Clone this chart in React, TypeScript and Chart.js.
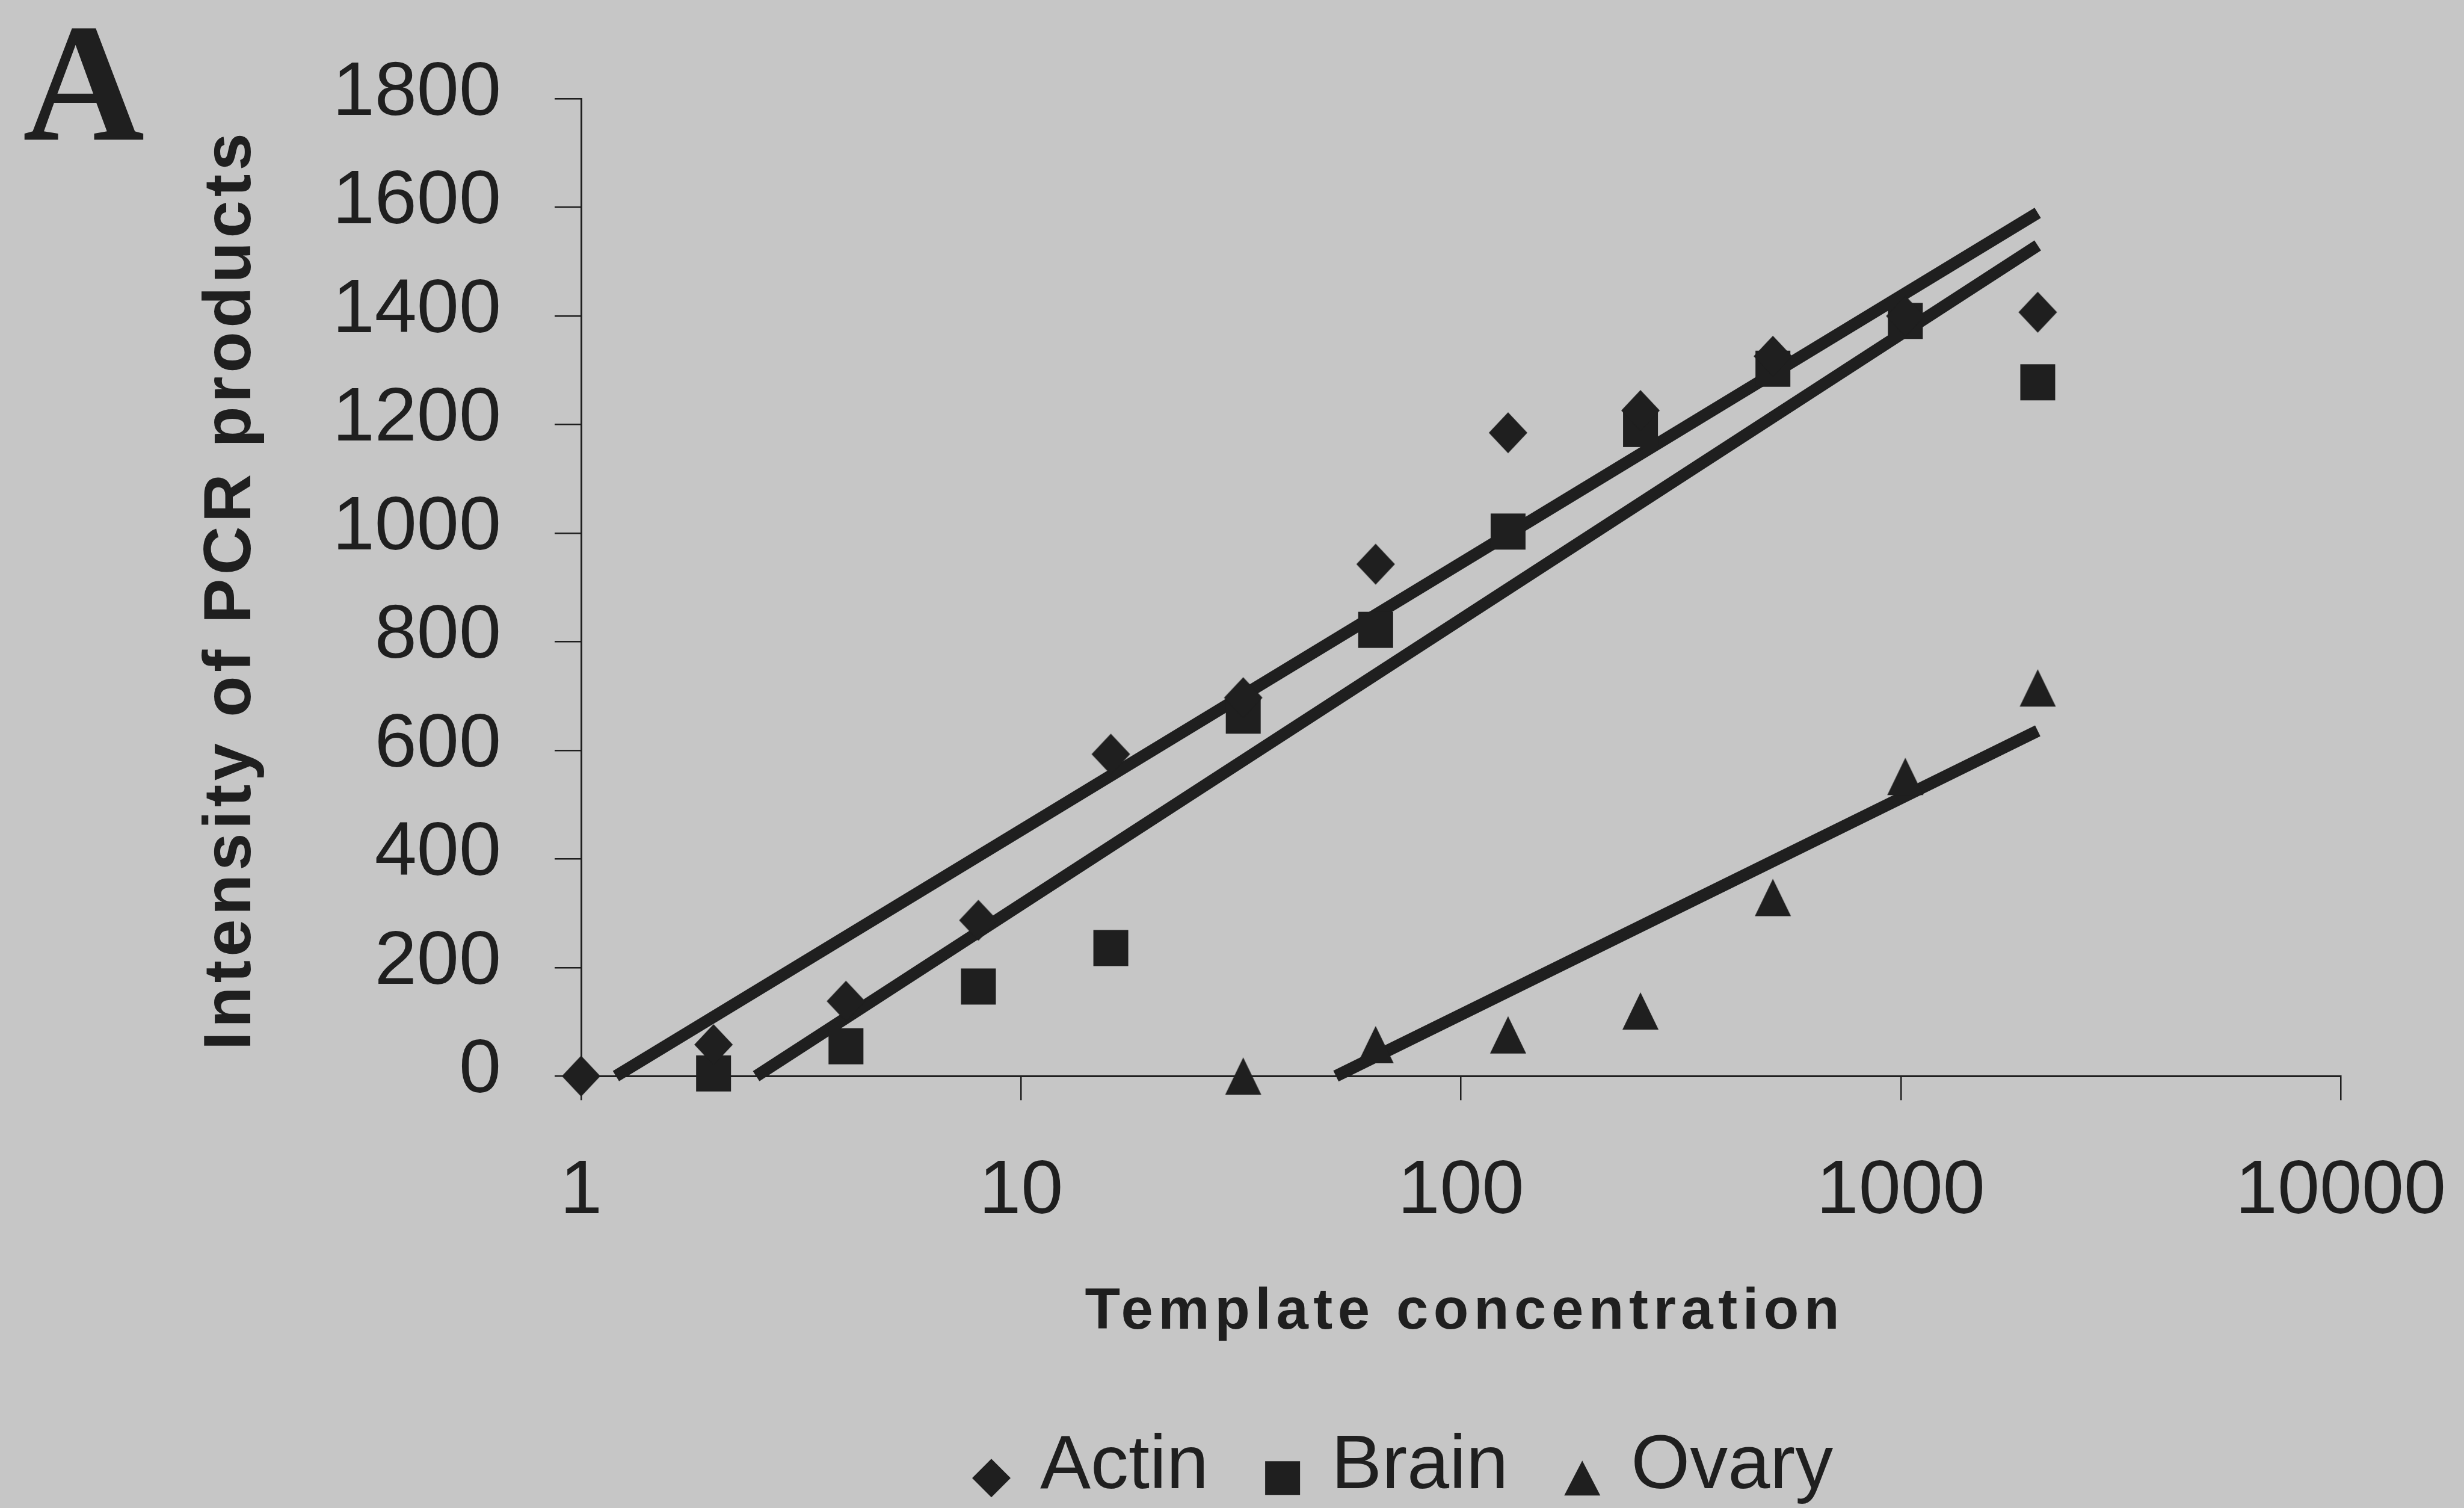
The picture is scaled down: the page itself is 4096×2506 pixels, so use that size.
import { useEffect, useRef } from 'react';
import { Chart, registerables } from 'chart.js';

Chart.register(...registerables);

// ---- data -------------------------------------------------------------
const actinConc = [1, 2, 4, 8, 16, 32, 64, 128, 256, 512, 1024, 2048];
const actinIntensity = [0, 58, 138, 287, 593, 697, 943, 1185, 1226, 1326, 1400, 1407];

const brainConc = [2, 4, 8, 16, 32, 64, 128, 256, 512, 1024, 2048];
const brainIntensity = [5, 55, 165, 236, 664, 822, 1003, 1192, 1303, 1391, 1278];

const ovaryConc = [32, 64, 128, 256, 512, 1024, 2048];
const ovaryIntensity = [0, 58, 76, 120, 329, 552, 715];

// Logarithmic trend lines: straight on the log axis, from the zero crossing to the last dilution
const actinTrendX = [1.2, 2048];
const actinTrendY = [0, 1590];
const brainTrendX = [2.5, 2048];
const brainTrendY = [0, 1530];
const ovaryTrendX = [52, 2048];
const ovaryTrendY = [0, 636];

const seriesNames = ['Actin', 'Brain', 'Ovary'];
const xTickValues = [1, 10, 100, 1000, 10000];
const xTickLabels = ['1', '10', '100', '1000', '10000'];
const yTickValues = [0, 200, 400, 600, 800, 1000, 1200, 1400, 1600, 1800];
const yTickLabels = ['0', '200', '400', '600', '800', '1000', '1200', '1400', '1600', '1800'];

const panelLabel = 'A';
const xTitle = 'Template concentration';
const yTitle = 'Intensity of PCR products';

// ---- styling ----------------------------------------------------------
const INK = '#1f1f1f';
const PAPER = '#c6c6c6';
const SANS = '"Liberation Sans", Arial, Helvetica, sans-serif';
const SERIF = '"Liberation Serif", "Times New Roman", serif';
const W = 4096;
const H = 2506;
const LABEL_SIZE = 126;

type Shape = 'diamond' | 'square' | 'triangle';

function drawShape(ctx: CanvasRenderingContext2D, shape: Shape, cx: number, cy: number, w: number, h: number) {
  ctx.save();
  ctx.fillStyle = INK;
  ctx.beginPath();
  if (shape === 'diamond') {
    ctx.moveTo(cx, cy - h / 2);
    ctx.lineTo(cx + w / 2, cy);
    ctx.lineTo(cx, cy + h / 2);
    ctx.lineTo(cx - w / 2, cy);
  } else if (shape === 'square') {
    ctx.rect(cx - w / 2, cy - h / 2, w, h);
  } else {
    ctx.moveTo(cx, cy - h / 2);
    ctx.lineTo(cx + w / 2, cy + h / 2);
    ctx.lineTo(cx - w / 2, cy + h / 2);
  }
  ctx.closePath();
  ctx.fill();
  ctx.restore();
}

function makeMarker(shape: Shape, w: number, h: number): HTMLCanvasElement {
  const pad = 2;
  const c = document.createElement('canvas');
  c.width = 2 * Math.ceil((w + 2 * pad) / 2);
  c.height = 2 * Math.ceil((h + 2 * pad) / 2);
  const ctx = c.getContext('2d')!;
  drawShape(ctx, shape, c.width / 2, c.height / 2, w, h);
  return c;
}

const seriesShapes: Shape[] = ['diamond', 'square', 'triangle'];
const markerSizes: [number, number][] = [
  [64, 68],
  [58, 60],
  [60, 62],
];

const toPoints = (xs: number[], ys: number[]) => xs.map((x, i) => ({ x, y: ys[i] }));

export default function App() {
  const canvasRef = useRef<HTMLCanvasElement | null>(null);

  useEffect(() => {
    document.body.style.margin = '0';
    document.body.style.background = PAPER;
    const canvas = canvasRef.current;
    if (!canvas) return;

    const plotMarkers = seriesShapes.map((s, i) => makeMarker(s, markerSizes[i][0], markerSizes[i][1]));

    const figureText = {
      id: 'figureText',
      beforeDraw(chart: Chart) {
        const ctx = chart.ctx;
        ctx.save();
        ctx.fillStyle = PAPER;
        ctx.fillRect(0, 0, chart.width, chart.height);
        ctx.restore();
      },
      afterDraw(chart: Chart) {
        const ctx = chart.ctx as CanvasRenderingContext2D & { letterSpacing?: string };
        const { left, right, top, bottom } = chart.chartArea;

        // vertical axis title
        ctx.save();
        ctx.fillStyle = INK;
        ctx.font = `bold 112px ${SANS}`;
        const yls = 6.2;
        ctx.letterSpacing = `${yls}px`;
        ctx.textAlign = 'left';
        ctx.textBaseline = 'alphabetic';
        const yw = ctx.measureText(yTitle).width - yls;
        ctx.translate(left - 550, (top + bottom) / 2 + 7);
        ctx.rotate(-Math.PI / 2);
        ctx.fillText(yTitle, -yw / 2, 0);
        ctx.restore();

        // horizontal axis title
        ctx.save();
        ctx.fillStyle = INK;
        ctx.font = `bold 96px ${SANS}`;
        const xls = 8.5;
        ctx.letterSpacing = `${xls}px`;
        ctx.textAlign = 'left';
        ctx.textBaseline = 'alphabetic';
        const xw = ctx.measureText(xTitle).width - xls;
        ctx.fillText(xTitle, (left + right) / 2 + 2 - xw / 2, bottom + 420);
        ctx.restore();

        // legend row under the axis title: marker, gap, name, gap, ...
        ctx.save();
        ctx.font = `${LABEL_SIZE}px ${SANS}`;
        ctx.fillStyle = INK;
        ctx.textAlign = 'left';
        ctx.textBaseline = 'middle';
        const textY = bottom + 650;
        const markerY = bottom + 668;
        let x = left + 682;
        seriesNames.forEach((name, i) => {
          drawShape(ctx, seriesShapes[i], x, markerY, markerSizes[i][0], markerSizes[i][1] - 4);
          ctx.fillStyle = INK;
          ctx.fillText(name, x + 81, textY);
          x += 81 + ctx.measureText(name).width + 123;
        });
        ctx.restore();

        // panel letter
        ctx.save();
        ctx.fillStyle = INK;
        ctx.font = `bold 280px ${SERIF}`;
        ctx.textAlign = 'left';
        ctx.textBaseline = 'alphabetic';
        ctx.fillText(panelLabel, 38, 232);
        ctx.restore();
      },
    };

    const tickFont = { family: SANS, size: LABEL_SIZE };

    const pointSeries = [
      toPoints(actinConc, actinIntensity),
      toPoints(brainConc, brainIntensity),
      toPoints(ovaryConc, ovaryIntensity),
    ];
    const trendSeries = [
      toPoints(actinTrendX, actinTrendY),
      toPoints(brainTrendX, brainTrendY),
      toPoints(ovaryTrendX, ovaryTrendY),
    ];

    const chart = new Chart(canvas, {
      type: 'scatter',
      data: {
        datasets: [
          ...pointSeries.map((data, i) => ({
            label: seriesNames[i],
            data,
            pointStyle: plotMarkers[i],
            pointRadius: 34,
            backgroundColor: INK,
            borderColor: INK,
            showLine: false,
            clip: false,
          })),
          ...trendSeries.map((data, i) => ({
            label: `${seriesNames[i]} trend`,
            data,
            showLine: true,
            pointRadius: 0,
            borderColor: INK,
            borderWidth: 20,
            borderCapStyle: 'butt',
            fill: false,
            clip: false,
          })),
        ],
      },
      options: {
        responsive: false,
        animation: false,
        devicePixelRatio: 1,
        events: [],
        layout: {
          padding: { left: 0, right: 205, top: 164.3, bottom: 260 },
        },
        scales: {
          x: {
            type: 'logarithmic',
            position: 'bottom',
            min: 1,
            max: 10000,
            afterBuildTicks: (scale: any) => {
              scale.ticks = xTickValues.map((v) => ({ value: v }));
            },
            afterFit: (scale: any) => {
              scale.height = 457.7;
              scale.paddingLeft = 0;
              scale.paddingRight = 0;
            },
            ticks: {
              autoSkip: false,
              maxRotation: 0,
              minRotation: 0,
              color: INK,
              font: tickFont,
              padding: 77,
              callback: (_v: any, i: number) => xTickLabels[i],
            },
            grid: {
              display: true,
              drawOnChartArea: false,
              drawTicks: true,
              tickLength: 40,
              tickWidth: 2.5,
              tickColor: INK,
              color: INK,
              lineWidth: 2.5,
            },
            border: { display: true, color: INK, width: 3 },
            title: { display: false },
          },
          y: {
            type: 'linear',
            position: 'left',
            min: 0,
            max: 1800,
            afterBuildTicks: (scale: any) => {
              scale.ticks = yTickValues.map((v) => ({ value: v }));
            },
            afterFit: (scale: any) => {
              scale.width = 966;
              scale.paddingTop = 0;
              scale.paddingBottom = 0;
            },
            ticks: {
              color: INK,
              font: tickFont,
              padding: 89,
              labelOffset: -8,
              callback: (_v: any, i: number) => yTickLabels[i],
            },
            grid: {
              display: true,
              drawOnChartArea: false,
              drawTicks: true,
              tickLength: 44,
              tickWidth: 2.5,
              tickColor: INK,
              color: INK,
              lineWidth: 2.5,
            },
            border: { display: true, color: INK, width: 3 },
            title: { display: false },
          },
        },
        plugins: {
          tooltip: { enabled: false },
          title: { display: false },
          legend: { display: false },
        },
      },
      plugins: [figureText],
    } as any);

    return () => {
      chart.destroy();
    };
  }, []);

  return (
    <div style={{ width: W, height: H, background: PAPER, overflow: 'hidden' }}>
      <canvas ref={canvasRef} width={W} height={H} style={{ display: 'block', width: W, height: H }} />
    </div>
  );
}
